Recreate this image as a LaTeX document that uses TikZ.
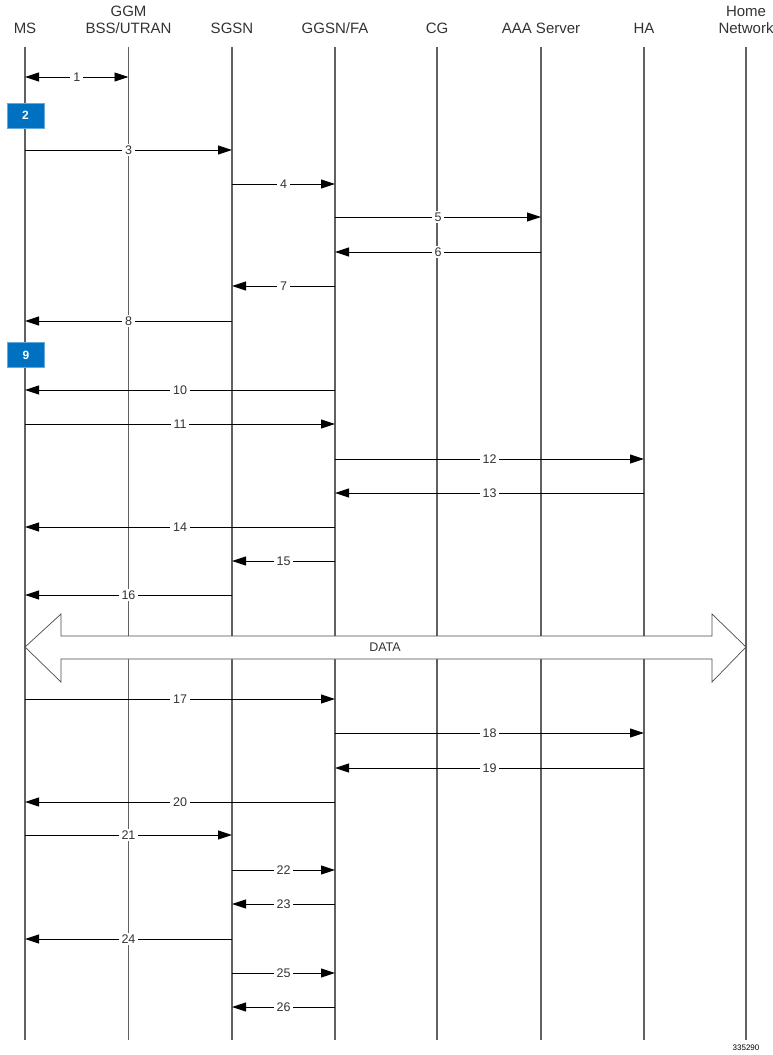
\documentclass[tikz,border=0pt]{standalone}
\usepackage{fontspec}
\setmainfont{Liberation Sans}
\usetikzlibrary{
    arrows.meta,
    calc
}
\definecolor{stepblue}{RGB}{0,112,192}
\tikzset{
  msgtip/.tip={Triangle[length=14pt,width=9pt]},
  header/.style={
    align=center,
    anchor=south,
    inner sep=0pt,
    text depth=3pt,
    text=black!80,
    font=\fontsize{15}{17}\selectfont
  },
  lifeline/.style={
    draw=black!62,
    line width=1.6pt
  },
  msg/.style={
    draw=black,
    line width=0.9pt,
    -msgtip
  },
  msglabel/.style={
    fill=white,
    inner xsep=3pt,
    inner ysep=1.5pt,
    text=black!80,
    font=\fontsize{12.5}{13}\selectfont
  },
  stepbox/.style={
    fill=stepblue,
    draw=stepblue!60!white,
    minimum width=37pt,
    minimum height=25pt,
    text=white,
    font=\bfseries\fontsize{12}{12}\selectfont
  },
  dataarrow/.style={
    draw=black!70,
    fill=white,
    line width=0.7pt
  }
}

\begin{document}
\begin{tikzpicture}[x=1pt,y=-1pt]
    \useasboundingbox (0,0) rectangle (773,1055);

    % 参加者
    \node[header] (ms)   at (25,37)    {MS};
    \node[header] (bss)  at (128.5,37) {GGM\\BSS/UTRAN};
    \node[header] (sgsn) at (232,37)   {SGSN};
    \node[header] (ggsn) at (335,37)   {GGSN/FA};
    \node[header] (cg)   at (437,37)   {CG};
    \node[header] (aaa)  at (541,37)   {AAA Server};
    \node[header] (ha)   at (644,37)   {HA};
    \node[header] (hn)   at (746,37)   {Home\\Network};

    % ライフライン
    \foreach \p in {ms,bss,sgsn,ggsn,cg,aaa,ha,hn} {
        \coordinate (\p-t) at (\p.south |- 0,47);
        \coordinate (\p-b) at (\p.south |- 0,1040);
        \draw[lifeline] (\p-t) -- (\p-b);
    }

    % DATA
    \draw[dataarrow] (25,647) -- (61,614) -- (61,636) -- (712,636) -- (712,614)
        -- (746,647) -- (712,682) -- (712,659) -- (61,659) -- (61,682) -- cycle;
    \node[text=black!80,font=\fontsize{12.5}{13}\selectfont] (data) at (385,647) {DATA};

    % メッセージ
    \coordinate (m1-a) at (ms-t |- 0,77);
    \coordinate (m1-b) at (bss-t |- 0,77);
    \draw[msg,msgtip-msgtip] (m1-a) -- node[msglabel] {1} (m1-b);
    \foreach \n/\a/\b/\y in {
        3/ms/sgsn/150, 4/sgsn/ggsn/184, 5/ggsn/aaa/217, 6/aaa/ggsn/252,
        7/ggsn/sgsn/286, 8/sgsn/ms/321, 10/ggsn/ms/390, 11/ms/ggsn/424,
        12/ggsn/ha/459, 13/ha/ggsn/493, 14/ggsn/ms/527, 15/ggsn/sgsn/561,
        16/sgsn/ms/595, 17/ms/ggsn/699, 18/ggsn/ha/733, 19/ha/ggsn/768,
        20/ggsn/ms/802, 21/ms/sgsn/835, 22/sgsn/ggsn/870, 23/ggsn/sgsn/904,
        24/sgsn/ms/939, 25/sgsn/ggsn/973, 26/ggsn/sgsn/1007} {
        \coordinate (m\n-a) at (\a-t |- 0,\y);
        \coordinate (m\n-b) at (\b-t |- 0,\y);
        \draw[msg] (m\n-a) -- node[msglabel] {\n} (m\n-b);
    }

    % ステップ
    \node[stepbox] (s2) at (25.5,115.5) {2};
    \node[stepbox] (s9) at (26,355) {9};

    \node[font=\fontsize{8}{8}\selectfont] (fig) at (746,1048) {335290};
\end{tikzpicture}
\end{document}
